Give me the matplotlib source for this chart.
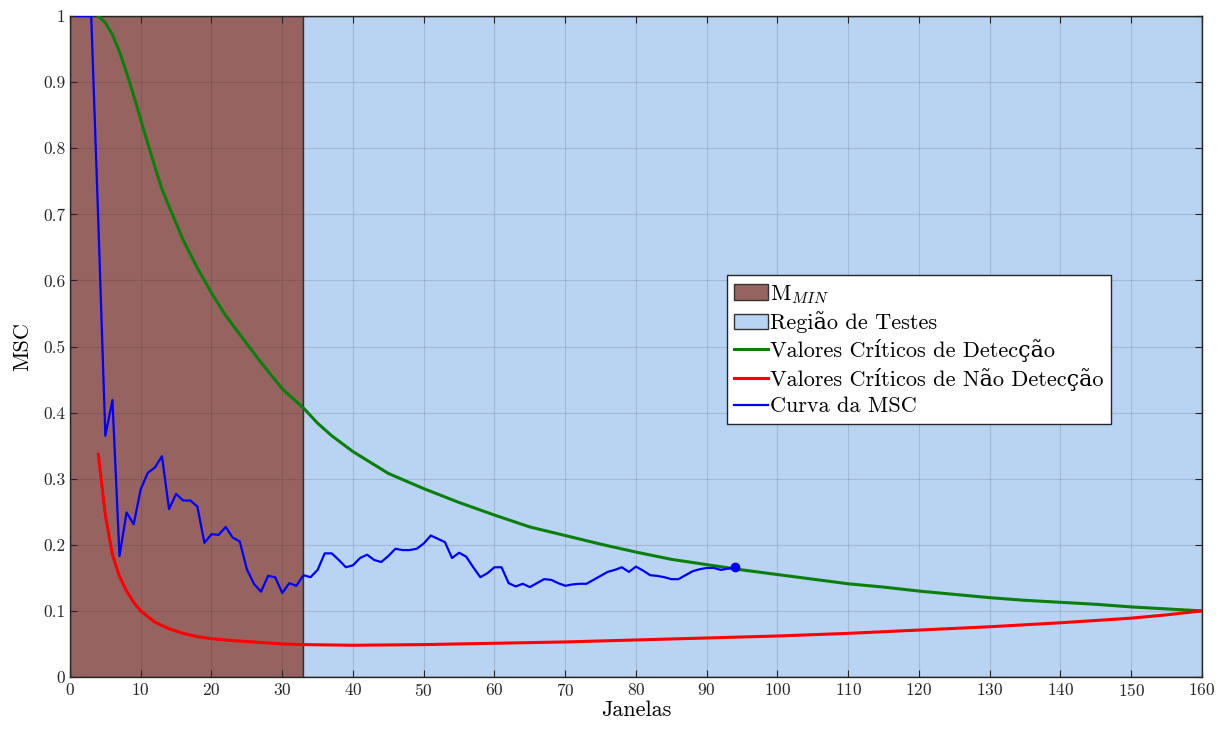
import matplotlib
matplotlib.use('agg')
import matplotlib.pyplot as plt
from matplotlib.patches import Patch
from matplotlib.lines import Line2D
from matplotlib.ticker import FuncFormatter

plt.rcParams['font.family'] = ['cmr10', 'DejaVu Serif']
plt.rcParams['mathtext.fontset'] = 'cm'
plt.rcParams['axes.formatter.use_mathtext'] = True

# MSC curve per window count
msc_x = list(range(1, 95))
msc_y = [1.0, 1.0, 1.0, 0.69, 0.365, 0.419, 0.183, 0.249, 0.231, 0.284,
         0.309, 0.317, 0.334, 0.254, 0.277, 0.267, 0.267, 0.258, 0.203, 0.216,
         0.215, 0.227, 0.211, 0.205, 0.163, 0.141, 0.129, 0.153, 0.151, 0.127,
         0.142, 0.138, 0.154, 0.151, 0.162, 0.187, 0.187, 0.177, 0.166, 0.169,
         0.180, 0.185, 0.177, 0.174, 0.183, 0.194, 0.192, 0.192, 0.194, 0.202,
         0.214, 0.209, 0.204, 0.180, 0.188, 0.182, 0.166, 0.151, 0.157, 0.166,
         0.166, 0.142, 0.137, 0.141, 0.136, 0.142, 0.148, 0.147, 0.142, 0.138,
         0.140, 0.141, 0.141, 0.147, 0.153, 0.159, 0.162, 0.166, 0.159, 0.167,
         0.161, 0.154, 0.153, 0.151, 0.148, 0.148, 0.154, 0.160, 0.163, 0.165,
         0.165, 0.162, 0.164, 0.166]

# critical values (detection)
det_x = [4, 5, 6, 7, 8, 9, 10, 11, 12, 13, 14, 16, 18, 20, 22, 25, 27, 30, 33,
         35, 37, 40, 45, 50, 55, 60, 65, 70, 75, 80, 85, 90, 95, 100, 105, 110,
         115, 120, 125, 130, 135, 140, 145, 150, 155, 160]
det_y = [1.0, 0.99, 0.972, 0.946, 0.914, 0.880, 0.843, 0.807, 0.772, 0.738,
         0.712, 0.661, 0.619, 0.581, 0.547, 0.504, 0.476, 0.436, 0.407, 0.384,
         0.365, 0.341, 0.308, 0.285, 0.264, 0.245, 0.227, 0.214, 0.201, 0.189,
         0.178, 0.170, 0.162, 0.155, 0.148, 0.141, 0.136, 0.130, 0.125, 0.120,
         0.116, 0.113, 0.110, 0.106, 0.103, 0.100]

# critical values (non-detection)
nd_x = [4, 5, 6, 7, 8, 9, 10, 12, 14, 16, 18, 20, 23, 26, 30, 33, 40, 50, 60,
        70, 80, 90, 100, 110, 120, 130, 140, 150, 155, 160]
nd_y = [0.337, 0.245, 0.185, 0.152, 0.130, 0.113, 0.100, 0.083, 0.073, 0.066,
        0.061, 0.058, 0.055, 0.053, 0.050, 0.049, 0.048, 0.049, 0.051, 0.053,
        0.056, 0.059, 0.062, 0.066, 0.071, 0.076, 0.082, 0.089, 0.094, 0.100]

m_min = 33
x_max = 160

fig = plt.figure(figsize=(12.3, 7.31), dpi=100)
ax = fig.add_axes([0.0569, 0.0739, 0.9203, 0.9041])

brown = '#976360'
lightblue = '#b9d3f3'
ax.axvspan(0, m_min, facecolor=brown, edgecolor='#333333', lw=1.0, zorder=0)
ax.axvspan(m_min, x_max, facecolor=lightblue, edgecolor='#333333', lw=1.0, zorder=0)

ax.plot(det_x, det_y, color='#0a800a', lw=2.2, zorder=3)
ax.plot(nd_x, nd_y, color='#ff0000', lw=2.2, zorder=3)
ax.plot(msc_x, msc_y, color='#0000ff', lw=1.6, zorder=4)
ax.plot(msc_x[-1], msc_y[-1], 'o', color='#0000ff', ms=6, zorder=5)

ax.set_xlim(0, x_max)
ax.set_ylim(0, 1)
ax.set_xticks(range(0, 161, 10))
ax.set_yticks([i / 10 for i in range(11)])
ax.yaxis.set_major_formatter(FuncFormatter(lambda v, p: '%g' % round(v, 2)))
ax.tick_params(direction='in', top=True, right=True, labelsize=12.5,
               length=5, width=0.8, colors='#262626', labelcolor='#262626')
ax.set_axisbelow(False)
ax.grid(True, color='#262626', alpha=0.15, lw=0.8)
for s in ax.spines.values():
    s.set_color('#262626')
    s.set_linewidth(1.0)

ax.set_xlabel('Janelas', fontsize=16, labelpad=1)
ax.set_ylabel('MSC', fontsize=16, labelpad=8)

handles = [
    Patch(facecolor=brown, edgecolor='#333333', lw=1.0),
    Patch(facecolor=lightblue, edgecolor='#333333', lw=1.0),
    Line2D([], [], color='#0a800a', lw=2.2),
    Line2D([], [], color='#ff0000', lw=2.2),
    Line2D([], [], color='#0000ff', lw=1.6),
]
labels = [r'M$_{\mathit{MIN}}$', 'Região de Testes',
          'Valores Críticos de Detecção',
          'Valores Críticos de Não Detecção', 'Curva da MSC']
leg = ax.legend(handles, labels, loc='upper left', bbox_to_anchor=(0.58, 0.608),
                fontsize=16, fancybox=False, framealpha=1, edgecolor='#262626',
                handlelength=1.5, handletextpad=0.1, labelspacing=0.26,
                borderpad=0.35, borderaxespad=0)
leg.get_frame().set_linewidth(1.0)

fig.savefig('out.png', dpi=100)
plt.close(fig)
